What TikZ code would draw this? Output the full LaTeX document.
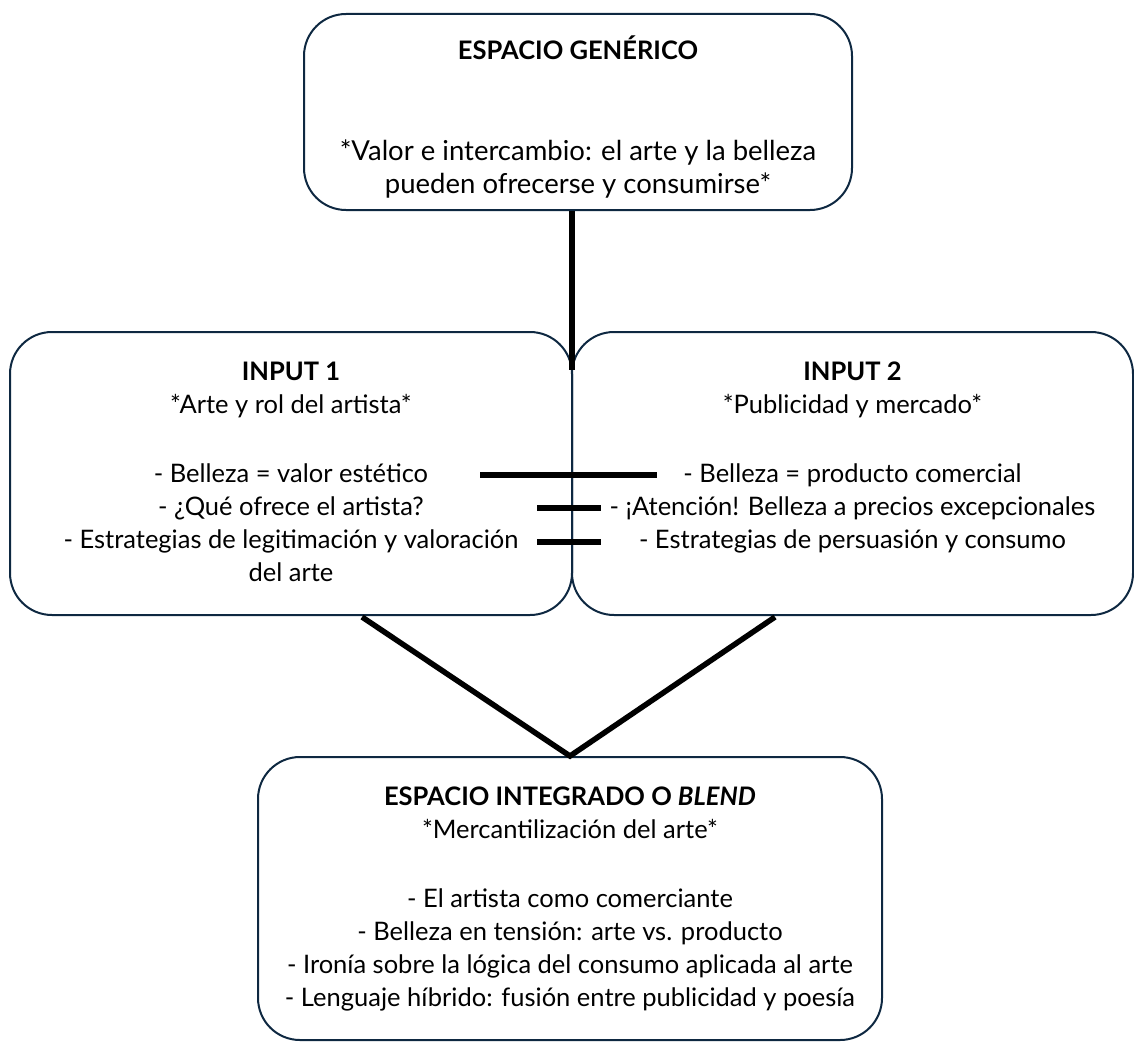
\documentclass[tikz,border=0pt]{standalone}
\usepackage{fontspec}
\setmainfont{Lato}
\usetikzlibrary{positioning}
\definecolor{azuloscuro}{HTML}{0E2841}
\newcommand{\grande}{\fontsize{27.5}{32}\selectfont}
\tikzset{
  espacio/.style={draw=azuloscuro, line width=2pt, rounded corners=42pt, inner sep=0pt},
  texto/.style={align=center, inner sep=0pt, font=\fontsize{25.5}{33}\selectfont},
  enlace/.style={line width=5.5pt},
}

\begin{document}
\begin{tikzpicture}[x=1pt,y=-1pt]
  \useasboundingbox (0,0) rectangle (1134,1041);
  % cajas
  \node[espacio, minimum width=548pt, minimum height=196pt] (generico) at (578,112) {};
  \node[espacio, minimum width=562pt, minimum height=283pt] (input1) at (291,473.5) {};
  \node[espacio, minimum width=561pt, minimum height=283pt] (input2) at (852.5,473.5) {};
  \node[espacio, minimum width=624pt, minimum height=283pt] (blend) at (570,898.5) {};
  % textos
  \node[texto, below=23pt of generico.north] (generico-t) {\textbf{ESPACIO GENÉRICO}\\[68pt]\grande*Valor e intercambio: el arte y la belleza\\\grande pueden ofrecerse y consumirse*};
  \node[texto, below=31pt of input1.north] (input1-t) {\textbf{INPUT 1}\\*Arte y rol del artista*\\[36pt]- Belleza = valor estético\\- ¿Qué ofrece el artista?\\- Estrategias de legitimación y valoración\\del arte};
  \node[texto, below=31pt of input2.north] (input2-t) {\textbf{INPUT 2}\\*Publicidad y mercado*\\[36pt]- Belleza = producto comercial\\- ¡Atención! Belleza a precios excepcionales\\- Estrategias de persuasión y consumo};
  \node[texto, below=31pt of blend.north] (blend-t) {\textbf{ESPACIO INTEGRADO O \textit{BLEND}}\\*Mercantilización del arte*\\[36pt]- El artista como comerciante\\- Belleza en tensión: arte vs. producto\\- Ironía sobre la lógica del consumo aplicada al arte\\- Lenguaje híbrido: fusión entre publicidad y poesía};
  % enlaces
  \coordinate (juntura) at (572,370);
  \draw[enlace] (generico.south -| juntura) -- (juntura);
  \foreach \nombre/\a/\b/\y in {b1/480/657/475, b2/537/601/508, b3/537/601/542}{
    \coordinate (\nombre-i) at (\a,\y);
    \coordinate (\nombre-d) at (\b,\y);
    \draw[enlace] (\nombre-i) -- (\nombre-d);
  }
  \coordinate (v1) at (362,617);
  \coordinate (v2) at (775,617);
  \draw[enlace] (v1) -- (blend.north) -- (v2);
\end{tikzpicture}
\end{document}
